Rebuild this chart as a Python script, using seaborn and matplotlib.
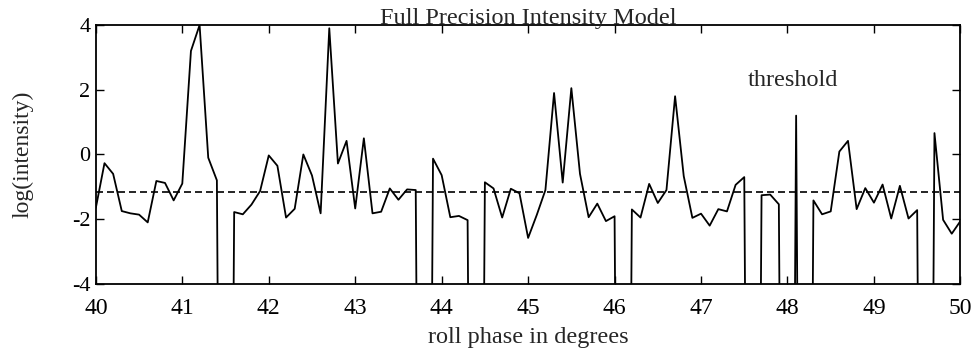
import numpy as np
import pandas as pd
import matplotlib
matplotlib.use("Agg")
import matplotlib.pyplot as plt
import seaborn as sns

# roll phase grid, one sample every 0.1 degree
roll_phase = np.round(np.linspace(40.0, 50.0, 101), 1)

# log(intensity); LOW marks the samples that dive off the bottom
LOW = -40.0
log_intensity = [
    -1.65, -0.27, -0.60, -1.75, -1.82, -1.86, -2.10, -0.82, -0.88, -1.42,   # 40.0-40.9
    -0.90, 3.20, 4.00, -0.10, -0.80, LOW, -1.78, -1.85, -1.55, -1.13,      # 41.0-41.9
    -0.03, -0.35, -1.95, -1.68, 0.00, -0.65, -1.82, 3.90, -0.28, 0.42,     # 42.0-42.9
    -1.67, 0.50, -1.82, -1.77, -1.05, -1.40, -1.08, -1.10, LOW, -0.13,     # 43.0-43.9
    -0.64, -1.94, -1.90, -2.03, LOW, -0.86, -1.05, -1.95, -1.06, -1.20,    # 44.0-44.9
    -2.58, -1.87, -1.10, 1.90, -0.87, 2.05, -0.60, -1.94, -1.52, -2.06,    # 45.0-45.9
    -1.91, LOW, -1.70, -1.95, -0.91, -1.50, -1.10, 1.80, -0.67, -1.96,     # 46.0-46.9
    -1.83, -2.20, -1.69, -1.76, -0.94, -0.70, LOW, -1.26, -1.24, -1.54,    # 47.0-47.9
    LOW, 1.20, LOW, -1.42, -1.85, -1.76, 0.09, 0.42, -1.69, -1.04,         # 48.0-48.9
    -1.49, -0.93, -1.98, -0.97, -1.98, -1.72, LOW, 0.66, -2.02, -2.45,     # 49.0-49.9
    -2.06,                                                                 # 50.0
]
threshold = -1.15

df = pd.DataFrame({"roll": roll_phase, "logI": log_intensity})
thr = pd.DataFrame({"roll": [roll_phase[0], roll_phase[-1]], "logI": [threshold, threshold]})

sns.set_style("ticks")
plt.rcParams["font.family"] = ["Liberation Serif", "DejaVu Serif"]
plt.rcParams["axes.unicode_minus"] = False

fig, ax = plt.subplots(figsize=(9.78, 3.63), dpi=100)
fig.subplots_adjust(left=0.098, right=0.982, top=0.931, bottom=0.218)

sns.lineplot(data=df, x="roll", y="logI", color="black", linewidth=1.3, ax=ax)
sns.lineplot(data=thr, x="roll", y="logI", color="black", linewidth=1.2,
             dashes=False, ax=ax).lines[-1].set_dashes((4.2, 2.4))

ax.set_xlim(40, 50)
ax.set_ylim(-4, 4)
ax.set_xticks(range(40, 51))
ax.set_yticks([-4, -2, 0, 2, 4])
ax.tick_params(axis="both", direction="in", length=6, width=1, top=True, right=True,
               colors="black")
ax.tick_params(axis="x", labelsize=17, pad=10)
ax.tick_params(axis="y", labelsize=16, pad=4)
for s in ax.spines.values():
    s.set_linewidth(1.3)
    s.set_color("black")

ax.set_title("Full Precision Intensity Model", fontsize=17.5, pad=1)
ax.set_xlabel("roll phase in degrees", fontsize=17.5, labelpad=6)
ax.set_ylabel("log(intensity)", fontsize=17)
ax.yaxis.set_label_coords(-0.072, 0.5)
ax.text(48.06, 2.13, "threshold", fontsize=17.5, ha="center", va="baseline")

fig.savefig("out.png", dpi=100)
